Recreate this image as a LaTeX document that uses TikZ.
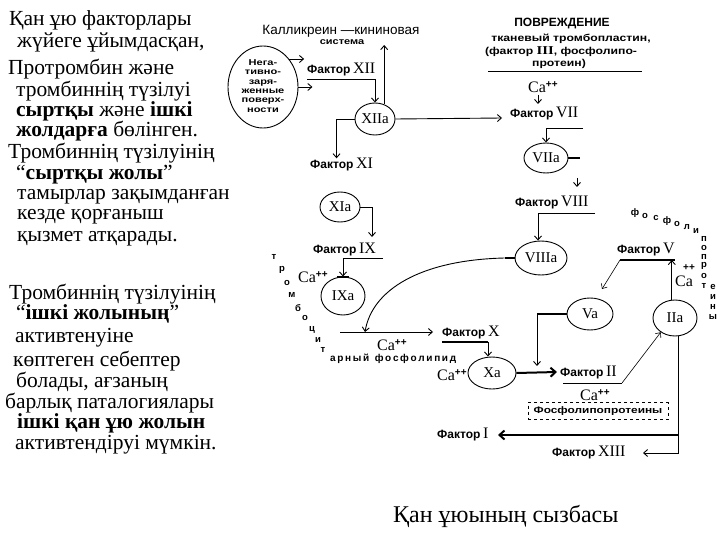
\documentclass[tikz,border=0pt]{standalone}
\usepackage{fontspec}
\setmainfont{Liberation Serif}
\newfontfamily\dsf{Liberation Sans}
\usetikzlibrary{shapes.geometric,arrows.meta}
\newcommand\Fk{{\dsf\bfseries\fontsize{12}{12}\selectfont Фактор}}
\newcommand\Rn[1]{{\fontsize{16}{16}\selectfont #1}}
\newcommand\Cpp{{\fontsize{16}{16}\selectfont Ca}\raisebox{5pt}{\dsf\bfseries\fontsize{10}{10}\selectfont ++}}
\newcommand\Wd[1]{\scalebox{1.22}[1]{#1}}
\tikzset{
  ln/.style={line width=0.9pt},
  tk/.style={line width=2pt},
  arr/.style={ln,-{Straight Barb[length=4pt,width=7pt]}},
  tarr/.style={tk,-{Straight Barb[length=5pt,width=9pt]}},
  el/.style={draw,ellipse,line width=0.9pt,inner sep=0pt,font=\fontsize{15}{15}\selectfont},
  fl/.style={anchor=west,inner sep=0pt},
  lt/.style={anchor=base west,inner sep=0pt,font=\fontsize{21.5}{21.5}\selectfont},
  vl/.style={inner sep=0pt,font=\dsf\bfseries\fontsize{9.5}{9.5}\selectfont},
  sm/.style={inner sep=0pt,font=\dsf\bfseries\fontsize{10}{10}\selectfont},
  calbl/.style={anchor=base west,inner sep=0pt},
}
\begin{document}
\begin{tikzpicture}[x=1pt,y=-1pt]
\useasboundingbox (0,0) rectangle (720,540);
\fill[white] (0,0) rectangle (720,540);

% ---- left text ----
\node[lt] (t1) at (9,26) {Қан ұю факторлары};
\node[lt] (t2) at (17,48) {жүйеге ұйымдасқан,};
\node[lt] (t3) at (8,75) {Протромбин және};
\node[lt] (t4) at (16,97) {тромбиннің түзілуі};
\node[lt] (t5) at (16,117) {\textbf{сыртқы} және \textbf{ішкі}};
\node[lt] (t6) at (16,137) {\textbf{жолдарға} бөлінген.};
\node[lt] (t7) at (8,159) {Тромбиннің түзілуінің};
\node[lt] (t8) at (16,180) {“\textbf{сыртқы жолы}”};
\node[lt] (t9) at (17,200) {тамырлар зақымданған};
\node[lt] (t10) at (17,220) {кезде қорғаныш};
\node[lt] (t11) at (17,241) {қызмет атқарады.};
\node[lt] (t12) at (9,299) {Тромбиннің түзілуінің};
\node[lt] (t13) at (16,319) {“\textbf{ішкі жолының}”};
\node[lt] (t14) at (15,342) {активтенуіне};
\node[lt] (t15) at (13,366) {көптеген себептер};
\node[lt] (t16) at (16,387) {болады, ағзаның};
\node[lt] (t17) at (5,408) {барлық паталогиялары};
\node[lt] (t18) at (17,428) {\textbf{ішкі қан ұю жолын}};
\node[lt] (t19) at (15,449) {активтендіруі мүмкін.};
\node[lt,font=\fontsize{24}{24}\selectfont] (capt) at (393,522) {Қан ұюының сызбасы};

% ---- top labels ----
\node[el,minimum width=70pt,minimum height=82pt] (neg) at (263,87) {};
\node[inner sep=0pt,font=\dsf\bfseries\fontsize{8.5}{9.4}\selectfont] (negt) at (neg.center)
      {\scalebox{1.3}[1]{\begin{tabular}{@{}c@{}}Нега-\\тивно-\\заря-\\женные\\поверх-\\ности\end{tabular}}};
\node[inner sep=0pt,font=\dsf\fontsize{13.5}{13.5}\selectfont] (kal) at (341,31) {Калликреин —кининовая};
\node[inner sep=0pt,font=\dsf\bfseries\fontsize{9}{9}\selectfont] (sys) at (342,42) {\Wd{система}};
\node[inner sep=0pt,font=\dsf\bfseries\fontsize{12}{12}\selectfont] (pov) at (562,24) {ПОВРЕЖДЕНИЕ};
\node[sm] (tk1) at (571,39) {\Wd{тканевый тромбопластин,}};
\node[sm] (tk2) at (561,52) {\Wd{(фактор {\fontsize{12}{12}\rmfamily\selectfont III}, фосфолипо-}};
\node[sm] (tk3) at (559,64) {\Wd{протеин)}};
\coordinate (hl1) at (488,71);
\coordinate (hl2) at (642,71);
\draw[ln] (hl1) -- (hl2);
\node[calbl] (ca7) at (528,93) {\Cpp};

% ---- factor labels ----
\node[fl] (f12) at (307,70) {\Fk\ \Rn{XII}};
\node[fl] (f11) at (310,165) {\Fk\ \Rn{XI}};
\node[fl] (f9) at (313,250) {\Fk\ \Rn{IX}};
\node[fl] (f7) at (510,114) {\Fk\ \Rn{VII}};
\node[fl] (f8) at (515,203) {\Fk\ \Rn{VIII}};
\node[fl] (f5) at (617,250) {\Fk\ \Rn{V}};
\node[fl] (f10) at (442,333) {\Fk\ \Rn{X}};
\node[fl] (f2) at (560,373) {\Fk\ \Rn{II}};
\node[fl] (f1) at (437,435) {\Fk\ \Rn{I}};
\node[fl] (f13) at (552,453) {\Fk\ \Rn{XIII}};

% ---- ellipses ----
\node[el,minimum width=40pt,minimum height=32pt] (XIIa) at (375,119) {XIIa};
\node[el,minimum width=40pt,minimum height=30pt] (XIa) at (340,207) {XIa};
\node[el,minimum width=44pt,minimum height=38pt] (IXa) at (343,296) {IXa};
\node[el,minimum width=44pt,minimum height=30pt] (VIIa) at (546,158) {VIIa};
\node[el,minimum width=52pt,minimum height=34pt] (VIIIa) at (541,258) {VIIIa};
\node[el,minimum width=46pt,minimum height=32pt] (Va) at (590,314) {Va};
\node[el,minimum width=44pt,minimum height=36pt] (IIa) at (675,318) {IIa};
\node[el,minimum width=48pt,minimum height=32pt] (Xa) at (492,373) {Xa};

% ---- Ca labels ----
\node[calbl] (ca9) at (298,282) {\Cpp};
\node[calbl] (ca10) at (377,350) {\Cpp};
\node[calbl] (caX) at (437,380) {\Cpp};
\node[calbl] (ca2) at (580,400) {\Cpp};
\node[inner sep=0pt,font=\dsf\bfseries\fontsize{10}{10}\selectfont] (pp5) at (689,268) {++};
\node[inner sep=0pt,font=\fontsize{16}{16}\selectfont] (c5) at (684,281) {Ca};

% ---- dashed box ----
\node[draw,dashed,line width=0.9pt,minimum width=140pt,minimum height=17pt,inner sep=0pt,
      font=\dsf\bfseries\fontsize{9.5}{9.5}\selectfont] (box) at (598,411) {\scalebox{1.25}[1]{Фосфолипопротеины}};

% ---- curved texts ----
\foreach \ch/\x/\y [count=\i] in {ф/635/213,о/645/216,с/656/218,ф/667/221,о/677/224,л/687/227,и/696/231,п/704/239,о/704/248,п/704/257,р/704/266,о/704/276,т/704/286,е/713/287,и/713/297,н/713/307,ы/713/317}
  \node[vl] (pl\i) at (\x,\y) {\ch};
\foreach \ch/\x/\y [count=\i] in {т/274/257,р/282/270,о/287/283,м/292/295,б/298/308,о/305/318,ц/312/330,и/318/340,т/323/350}
  \node[vl] (tr\i) at (\x,\y) {\ch};
\node[vl,anchor=west,font=\dsf\bfseries\fontsize{10}{10}\selectfont] (trh) at (330,359) {а\,р\,н\,ы\,й\ \ ф\,о\,с\,ф\,о\,л\,и\,п\,и\,д};

% ---- connectors ----
\draw[arr] (neg.47) -- ++(15,0);
\draw[arr] (neg.east) -- ++(14,0);
\coordinate (u12) at (307,79);
\draw[arr] (u12) -| (XIIa.north);
\coordinate (kk) at (387,45);
\draw[arr] (XIIa.58) -- (XIIa.58 |- kk);
\draw[arr] (XIIa.west) -| ([xshift=-5pt]f11.north);
\coordinate (a7) at (502,118);
\draw[arr] (XIIa.east) -- (a7);
\coordinate (c7a) at (538,95);
\coordinate (c7b) at (538,104);
\draw[arr] (c7a) -- (c7b);
\coordinate (u7) at (583,128);
\draw[arr] (u7) -| (VIIa.north);
\draw[tk] (VIIa.east) -- ++(12,0);
\coordinate (d8a) at (577,178);
\coordinate (d8b) at (577,187);
\draw[arr] (d8a) -- (d8b);
\coordinate (u8) at (595,213);
\draw[arr] (u8) -| ([xshift=-3pt]VIIIa.north);
\draw[tk] (VIIIa.west) -- ++(-10,0) coordinate (v8);
\coordinate (h1) at (340,332);
\coordinate (h2) at (433,332);
\coordinate (c10) at (365,332);
\draw[arr] (h1) -- (h2);
\draw[arr] (v8) .. controls (420,260) and (372,290) .. (c10);
\coordinate (a9) at (372,237);
\draw[arr] (XIa.east) -| (a9);
\coordinate (u9) at (383,258);
\draw[arr] (u9) -| (IXa.north);
\draw[tk] ([xshift=-6pt]IXa.north) -- ([xshift=6pt]IXa.north);
\coordinate (u10) at (442,342);
\draw[tk] (u10) -- ++(46,0) coordinate (u10b);
\draw[arr] (u10b) -- (u10b |- Xa.north);
\coordinate (a2) at (557,372);
\draw[tarr] (Xa.east) -- (a2);
\coordinate (vd) at (537,366);
\draw[tk] (Va.west) -- (vd |- Va.west);
\draw[arr] (vd |- Va.west) -- (vd);
\coordinate (u2a) at (563,383);
\coordinate (u2b) at (622,383);
\draw[ln] (u2a) -- (u2b);
\draw[line width=0.6pt,-{Straight Barb[length=4pt,width=7pt]}] (u2b) -- (IIa.225);
\coordinate (u5a) at (620,260);
\coordinate (u5b) at (675,260);
\draw[tk] (u5a) -- (u5b);
\draw[arr] (IIa.100) -- (IIa.100 |- u5a);
\coordinate (a5) at (602,289);
\draw[line width=0.6pt,-{Straight Barb[length=4pt,width=7pt]}] (u5a) -- (a5);
\coordinate (a13) at (643,453);
\draw[arr] ([xshift=3pt]IIa.south) |- (a13);
\coordinate (b1) at (678,435);
\coordinate (a1) at (498,435);
\draw[tarr] (b1) -- (a1);
\end{tikzpicture}
\end{document}
